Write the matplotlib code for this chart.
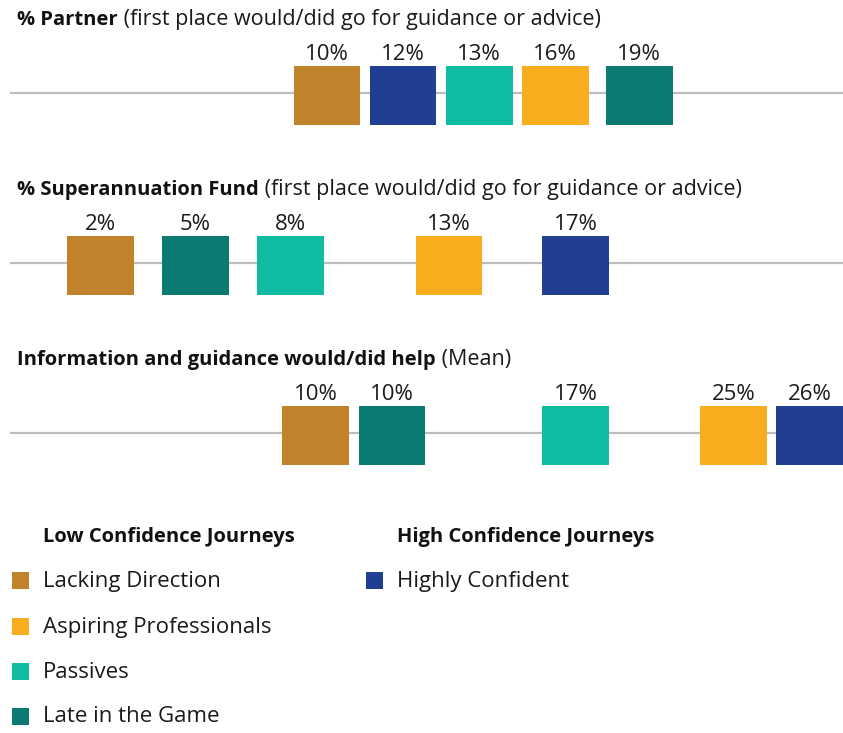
import numpy as np
import matplotlib
matplotlib.use("Agg")
import matplotlib.pyplot as plt
from matplotlib.patches import Rectangle

plt.rcParams['font.family'] = ['Open Sans', 'DejaVu Sans']

# segments and colours
groups = ['Lacking Direction', 'Aspiring Professionals', 'Passives',
          'Late in the Game', 'Highly Confident']
colors = ['#C0832C', '#F8AD1F', '#0FBBA3', '#0B7A72', '#213F92']

# values (%) in the order of groups
partner = [10, 16, 13, 19, 12]
super_fund = [2, 13, 8, 5, 17]
info_help = [10, 25, 17, 10, 26]

titles_bold = ['% Partner', '% Superannuation Fund',
               'Information and guidance would/did help']
titles_rest = [' (first place would/did go for guidance or advice)',
               ' (first place would/did go for guidance or advice)',
               ' (Mean)']
rows = [partner, super_fund, info_help]

W, H = 843, 733
fig = plt.figure(figsize=(W / 100, H / 100), dpi=100)

xmin, xmax = -0.85, 25.43
box_w = 2.11     # square width in % units
step = 2.40      # centre distance when squares collide


def dodge(vals):
    # 1d layout: put each square at its value, merge colliding ones into a cluster
    order = sorted(range(len(vals)), key=lambda i: vals[i])
    clusters = []
    for i in order:
        clusters.append([i])
        while len(clusters) > 1:
            prev, cur = clusters[-2], clusters[-1]
            pp = place(prev, vals)
            cp = place(cur, vals)
            if pp[-1] + step > cp[0] + 1e-9:
                clusters[-2:] = [prev + cur]
            else:
                break
    pos = {}
    for c in clusters:
        for i, p in zip(c, place(c, vals)):
            pos[i] = p
    return [pos[i] for i in range(len(vals))]


def place(c, vals):
    n = len(c)
    centre = np.mean([vals[i] for i in c])
    ps = [centre + (k - (n - 1) / 2) * step for k in range(n)]
    hi = xmax - box_w / 2
    lo = xmin + box_w / 2
    if ps[-1] > hi:
        ps = [p - (ps[-1] - hi) for p in ps]
    if ps[0] < lo:
        ps = [p + (lo - ps[0]) for p in ps]
    return ps


tops = [66, 236, 406]   # pixel top of each row of squares
sq_h = 59
for r, vals in enumerate(rows):
    ax = fig.add_axes([10 / W, 1 - (tops[r] + sq_h) / H, (W - 10) / W, sq_h / H])
    ax.set_xlim(xmin, xmax)
    ax.set_ylim(0, 1)
    ax.axis('off')
    ax.axhline(0.54, color='#BDBDBD', lw=1.6, zorder=1)
    xs = dodge(vals)
    for i, (x, v) in enumerate(zip(xs, vals)):
        ax.add_patch(Rectangle((x - box_w / 2, 0), box_w, 1, color=colors[i],
                               lw=0, zorder=2))
        ax.annotate(f'{v}%', (x, 1), xytext=(0, 4.5), textcoords='offset points',
                    ha='center', va='baseline', fontsize=16, color='#1A1A1A')

# titles and legend, in pixel coordinates
ov = fig.add_axes([0, 0, 1, 1], zorder=-1)
ov.set_xlim(0, W)
ov.set_ylim(H, 0)
ov.axis('off')

for r in range(3):
    t = ov.text(17, tops[r] - 41, titles_bold[r], fontsize=14.5, fontweight='bold',
                color='#111111', va='baseline', ha='left')
    ov.annotate(titles_rest[r], xy=(1, 0), xycoords=t, ha='left', va='bottom',
                fontsize=15.5, color='#1A1A1A')

ov.text(43, 542, 'Low Confidence Journeys', fontsize=14.5, fontweight='bold',
        color='#111111', va='baseline')
ov.text(397, 542, 'High Confidence Journeys', fontsize=14.5, fontweight='bold',
        color='#111111', va='baseline')

legend_y = [581, 627, 672, 717]
for k in range(4):
    ov.add_patch(Rectangle((12, legend_y[k] - 9), 17, 17, color=colors[k], lw=0))
    ov.text(43, legend_y[k], groups[k], fontsize=16, color='#1A1A1A', va='center')
ov.add_patch(Rectangle((366, legend_y[0] - 9), 17, 17, color=colors[4], lw=0))
ov.text(397, legend_y[0], groups[4], fontsize=16, color='#1A1A1A', va='center')

fig.savefig('out.png', dpi=100)
